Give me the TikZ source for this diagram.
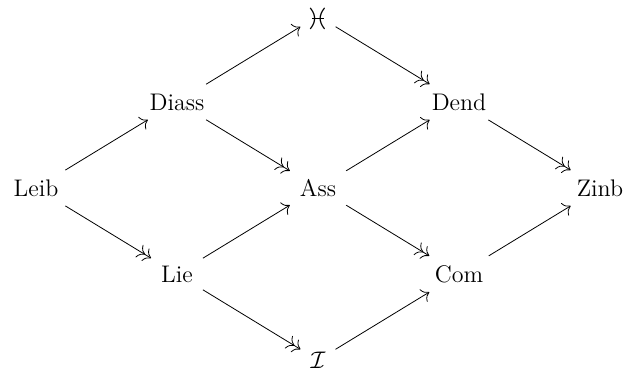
\documentclass[12pt,tikz,border=0pt]{standalone}
\usepackage{graphicx}
\usetikzlibrary{arrows.meta}

\newcommand{\barasymp}{\scalebox{1.35}{\ooalign{\rotatebox[origin=c]{90}{$\asymp$}\cr\hidewidth\rule[0.22em]{0.34em}{0.35pt}\hidewidth}}}

\tikzset{
	inj/.style={-{To[length=3.5pt]}, shorten >=1pt, shorten <=1pt},
	surj/.style={-{To[length=3.5pt] To[length=3.5pt]}, shorten >=1pt, shorten <=1pt}
}

\begin{document}
\begin{tikzpicture}[x=70.5pt, y=43pt]
					\useasboundingbox (-18pt,-90pt) rectangle (294.5pt,94pt);
					\node (leib)  at (0, 0) {Leib};
					\node (diass) at (1, 1) {Diass};
					\node (lie)   at (1,-1) {Lie};
					\node (quad)  at (2, 2) {$\barasymp$};
					\node (ass)   at (2, 0) {Ass};
					\node (inul)  at (2,-2) {$\mathcal{I}$};
					\node (dend)  at (3, 1) {Dend};
					\node (com)   at (3,-1) {Com};
					\node (zinb)  at (4, 0) {Zinb};
					% first column
					\draw[inj]  (leib) -- (diass);
					\draw[surj] (leib) -- (lie);
					% second column
					\draw[inj]  (diass) -- (quad);
					\draw[surj] (diass) -- (ass);
					\draw[inj]  (lie) -- (ass);
					\draw[surj] (lie) -- (inul);
					% third column
					\draw[surj] (quad) -- (dend);
					\draw[inj]  (ass) -- (dend);
					\draw[surj] (ass) -- (com);
					\draw[inj]  (inul) -- (com);
					% last column
					\draw[surj] (dend) -- (zinb);
					\draw[inj]  (com) -- (zinb);
				\end{tikzpicture}
\end{document}
